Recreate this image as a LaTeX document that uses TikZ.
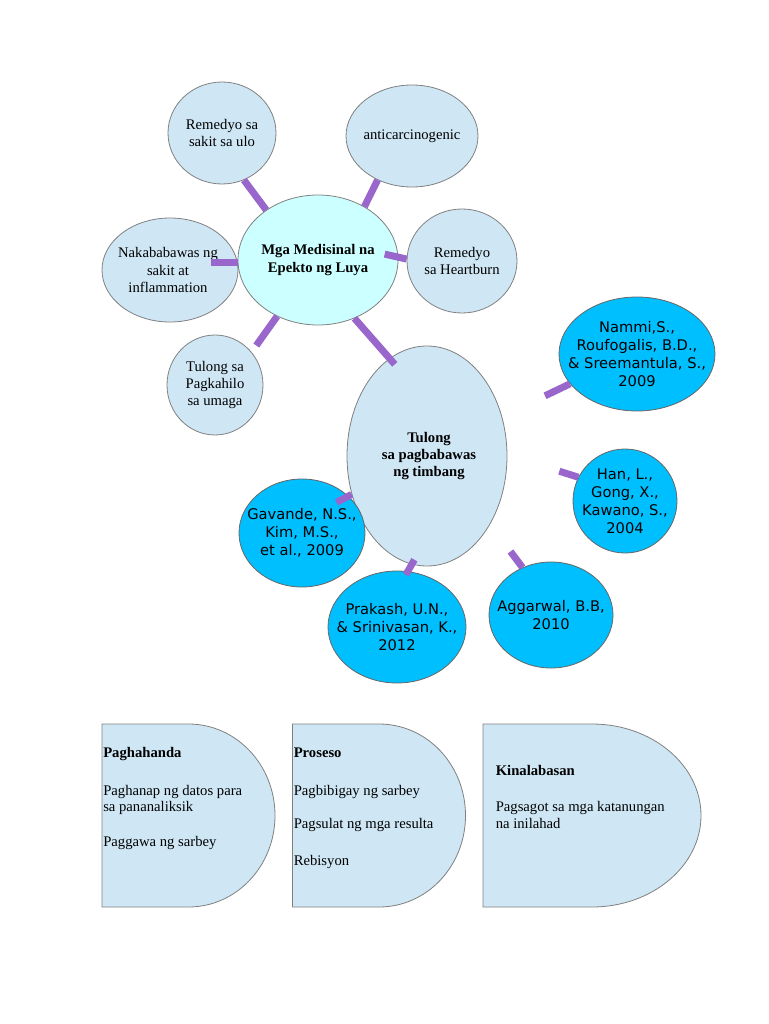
\documentclass[tikz,border=0pt]{standalone}
\usepackage{fontspec}
\setmainfont{Liberation Serif}
\newfontfamily\dvs{DejaVu Sans}
\usetikzlibrary{shapes.geometric}
\definecolor{lb}{HTML}{CFE7F5}
\definecolor{cy}{HTML}{CCFFFF}
\definecolor{bb}{HTML}{00BFFF}
\definecolor{pu}{HTML}{9966CC}
\definecolor{ol}{HTML}{808080}
\begin{document}
\begin{tikzpicture}[x=0.75pt,y=-0.75pt,
  bub/.style={ellipse, draw=ol, line width=0.6pt, inner sep=0pt, fill=lb},
  bbub/.style={bub, fill=bb, draw=ol!80!black},
  txt/.style={align=center, font=\fontsize{11}{13}\selectfont, inner sep=0pt},
  btxt/.style={align=center, font=\fontsize{11}{13}\selectfont\bfseries, inner sep=0pt},
  stx/.style={align=center, font=\dvs\fontsize{11}{13.5}\selectfont, inner sep=0pt},
  ltx/.style={anchor=base west, font=\fontsize{11}{12.5}\selectfont, inner sep=0pt},
  lbtx/.style={ltx, font=\fontsize{11}{12.5}\selectfont\bfseries},
  stub/.style={draw=pu, line width=5.25pt},
  dshape/.style={draw=ol, line width=0.6pt, fill=lb}]
\useasboundingbox (0,0) rectangle (768,1024);
\fill[white] (0,0) rectangle (768,1024);

% top cluster
\node[bub, fill=cy, minimum width=120pt, minimum height=97.5pt] (C) at (318,260) {};
\node[btxt] (Ct) at (C.center) {Mga Medisinal na\\Epekto ng Luya};
\node[bub, minimum width=81pt, minimum height=76.5pt] (Ulo) at (222,133) {};
\node[txt] (Ulot) at (Ulo.center) {Remedyo sa\\sakit sa ulo};
\node[bub, minimum width=99pt, minimum height=76.5pt] (Anti) at (412,136) {};
\node[txt] (Antit) at (Anti.center) {anticarcinogenic};
\node[bub, minimum width=82.5pt, minimum height=78pt] (HB) at (462,261) {};
\node[txt] (HBt) at (HB.center) {Remedyo\\sa Heartburn};
\node[bub, minimum width=102pt, minimum height=78pt] (Naka) at (170,270) {};
\node[txt] (Nakat) at (168,270) {Nakababawas ng\\sakit at\\inflammation};
\node[bub, minimum width=72pt, minimum height=75pt] (Pag) at (215,385) {};
\node[txt] (Pagt) at (Pag.center) {Tulong sa\\Pagkahilo\\sa umaga};

% timbang cluster
\node[bub, minimum width=120pt, minimum height=165pt] (T) at (427,456) {};
\node[btxt] (Tt) at (429,456) {Tulong\\sa pagbabawas\\ng timbang};
\node[bbub, minimum width=117pt, minimum height=85.5pt] (Nammi) at (637,354) {};
\node[stx] (Nammit) at (Nammi.center) {Nammi,S.,\\Roufogalis, B.D.,\\\& Sreemantula, S.,\\2009};
\node[bbub, minimum width=78pt, minimum height=78pt] (Han) at (625,501) {};
\node[stx] (Hant) at (Han.center) {Han, L.,\\Gong, X.,\\Kawano, S.,\\2004};
\node[bbub, minimum width=94.5pt, minimum height=81pt] (Gav) at (302,533) {};
\node[stx] (Gavt) at (Gav.center) {Gavande, N.S.,\\Kim, M.S.,\\et al., 2009};
\node[bbub, minimum width=103.5pt, minimum height=84pt] (Prak) at (397,627) {};
\node[stx] (Prakt) at (Prak.center) {Prakash, U.N.,\\\& Srinivasan, K.,\\2012};
\node[bbub, minimum width=93pt, minimum height=79.5pt] (Agg) at (551,615) {};
\node[stx] (Aggt) at (Agg.center) {Aggarwal, B.B,\\2010};

% stubs
\draw[stub] (Ulo.-65) -- (C.136);
\draw[stub] (Anti.232) -- (C.49);
\draw[stub, shorten <=-10.5pt] (C.2) -- (HB.178);
\draw[stub] (C.182) -- ++(-27,0);
\draw[stub, shorten >=6pt] (C.234) -- (Pag.42);
\draw[stub, shorten >=-6pt] (C.-58) -- (T.111);
\draw[stub] (Nammi.204) -- ++(-25,12);
\draw[stub] (Han.153) -- ++(-19,-6);
\draw[stub] (T.207) -- ++(-15,8);
\draw[stub, shorten <=-4pt, shorten >=-3pt] (T.262) -- (Prak.79);
\draw[stub] (Agg.121) -- ++(-12,-16);

% bottom shapes
\draw[dshape] (102,724) -- (188.5,724) .. controls (236.3,724) and (275,765) .. (275,815.5)
  .. controls (275,866) and (236.3,907) .. (188.5,907) -- (102,907) -- cycle;
\draw[dshape] (292.5,724) -- (379,724) .. controls (427,724) and (465.5,765) .. (465.5,815.5)
  .. controls (465.5,866) and (427,907) .. (379,907) -- (292.5,907) -- cycle;
\draw[dshape] (483,724) -- (592,724) .. controls (652,724) and (701,765) .. (701,815.5)
  .. controls (701,866) and (652,907) .. (592,907) -- (483,907) -- cycle;

\node[lbtx] (p1) at (103,757.7) {Paghahanda};
\node[ltx] (p2) at (103,795) {Paghanap ng datos para};
\node[ltx] (p3) at (103,811.7) {sa pananaliksik};
\node[ltx] (p4) at (103,846) {Paggawa ng sarbey};

\node[lbtx] (q1) at (293.5,757.7) {Proseso};
\node[ltx] (q2) at (293.5,795) {Pagbibigay ng sarbey};
\node[ltx] (q3) at (293.5,828.5) {Pagsulat ng mga resulta};
\node[ltx] (q4) at (293.5,865) {Rebisyon};

\node[lbtx] (r1) at (495.5,775.7) {Kinalabasan};
\node[ltx] (r2) at (495.5,811.7) {Pagsagot sa mga katanungan};
\node[ltx] (r3) at (495.5,828.4) {na inilahad};
\end{tikzpicture}
\end{document}
